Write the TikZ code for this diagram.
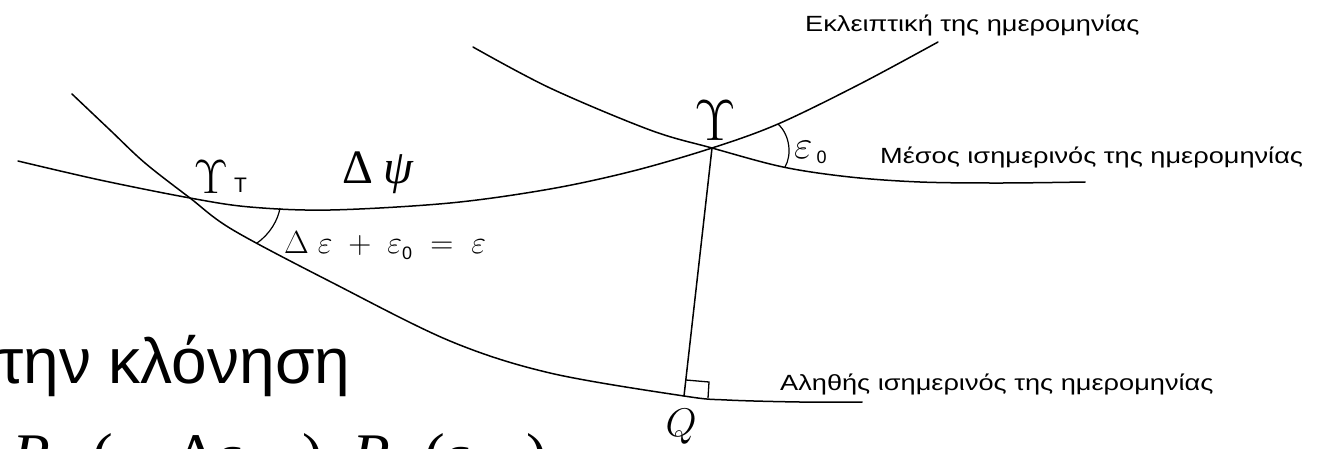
\RequirePackage{fix-cm}
\documentclass[tikz,border=0pt]{standalone}
\usepackage{fontspec}
\newfontfamily\lblfont[FakeStretch=1.235]{Liberation Sans}
\newfontfamily\sansfont{Liberation Sans}
\newfontfamily\serfont{Liberation Serif}
\tikzset{
  circle line/.style={line width=1.5pt, line join=round, line cap=round},
  lbl/.style={inner sep=0pt, anchor=base west, font=\lblfont\fontsize{22}{24}\selectfont},
  sym/.style={inner sep=0pt},
  fpart/.style={inner sep=0pt, anchor=base west, font=\serfont\fontsize{62}{62}\selectfont},
}
\newcommand{\subone}[1]{\raisebox{-10pt}{\fontsize{36}{36}\selectfont #1}}
\begin{document}
\begin{tikzpicture}[x=1pt,y=-1pt]
\useasboundingbox (0,0) rectangle (1321,448);
\clip (0,0) rectangle (1321,448);
\fill[white] (0,0) rectangle (1321,448);
% key points
\coordinate (gT) at (190,198);
\coordinate (g) at (712,148);
\coordinate (Q) at (684,396);
% ecliptic of date
\draw[circle line] plot[smooth, tension=0.55] coordinates {(18,161) (100,180) (gT) (250,207) (330,210) (450,203) (550,189) (633,171) (g) (778,124) (860,84) (938,42)};
% mean equator of date
\draw[circle line] plot[smooth, tension=0.55] coordinates {(473,47) (550,88) (650,130) (g) (783,167) (850,177) (920,182) (1000,183) (1085,182)};
% true equator of date
\draw[circle line] plot[smooth, tension=0.55] coordinates {(72,94) (110,130) (145,163) (gT) (233,230) (333,283) (450,341) (550,373) (Q) (727,400) (800,402) (862,402)};
% great circle from mean equinox to Q
\draw[circle line] (g) -- (Q);
% right angle mark
\draw[line width=1.3pt] (686,380) -- (709,382) -- (708,398);
% angle arcs
\draw[line width=1.2pt] (778,124) .. controls (790,135) and (792,155) .. (785,167);
\draw[line width=1.2pt] (280,208) .. controls (278,220) and (270,234) .. (257,243);
% symbols
\node[sym] (aries) at (715,121) {\fontsize{58}{58}\selectfont$\Upsilon$};
\node[sym] (ariesT) at (211,177) {\fontsize{48}{48}\selectfont$\Upsilon$};
\node[sym, anchor=base west] (ariesTsub) at (234,192) {\sansfont\fontsize{21}{21}\selectfont T};
\node[sym, anchor=base west] (dpsi) at (342,183) {\serfont\fontsize{48}{48}\selectfont Δ\hspace{10pt}\itshape ψ};
\node[sym, anchor=base west] (eps0) at (794,158) {\fontsize{40}{40}\selectfont$\varepsilon$\hspace{4pt}\raisebox{-5pt}{\sansfont\fontsize{18}{18}\selectfont 0}};
\node[sym, anchor=base west] (deps) at (284,253) {\fontsize{32}{32}\selectfont$\Delta\;\varepsilon\;+\;\varepsilon_{\raisebox{-2pt}{\sansfont\fontsize{18}{18}\selectfont 0}}\;=\;\varepsilon$};
\node[sym] (Qlbl) at (681,427) {\fontsize{40}{40}\selectfont$Q$};
% labels
\node[lbl] (lecl) at (805,31) {Εκλειπτική της ημερομηνίας};
\node[lbl] (lmean) at (880,163) {Μέσος ισημερινός της ημερομηνίας};
\node[lbl] (ltrue) at (780,390) {Αληθής ισημερινός της ημερομηνίας};
% slide text (cut by the frame)
\node[sym, anchor=base west] (slide) at (-2,383) {\sansfont\fontsize{64}{64}\selectfont την κλόνηση};
% formula, cut by the lower edge
\node[fpart] (f1) at (12,476) {\textit{R}\subone{1}};
\node[fpart] (f2) at (92,476) {(};
\node[fpart] (f3) at (134,476) {−};
\node[fpart] (f4) at (176,476) {Δ\textit{ε}};
\node[fpart] (f5) at (302,476) {)};
\node[fpart] (f6) at (352,476) {\textit{R}\subone{1}};
\node[fpart] (f7) at (424,476) {(\textit{ε}\subone{0}};
\node[fpart] (f8) at (526,476) {)};
\end{tikzpicture}
\end{document}
